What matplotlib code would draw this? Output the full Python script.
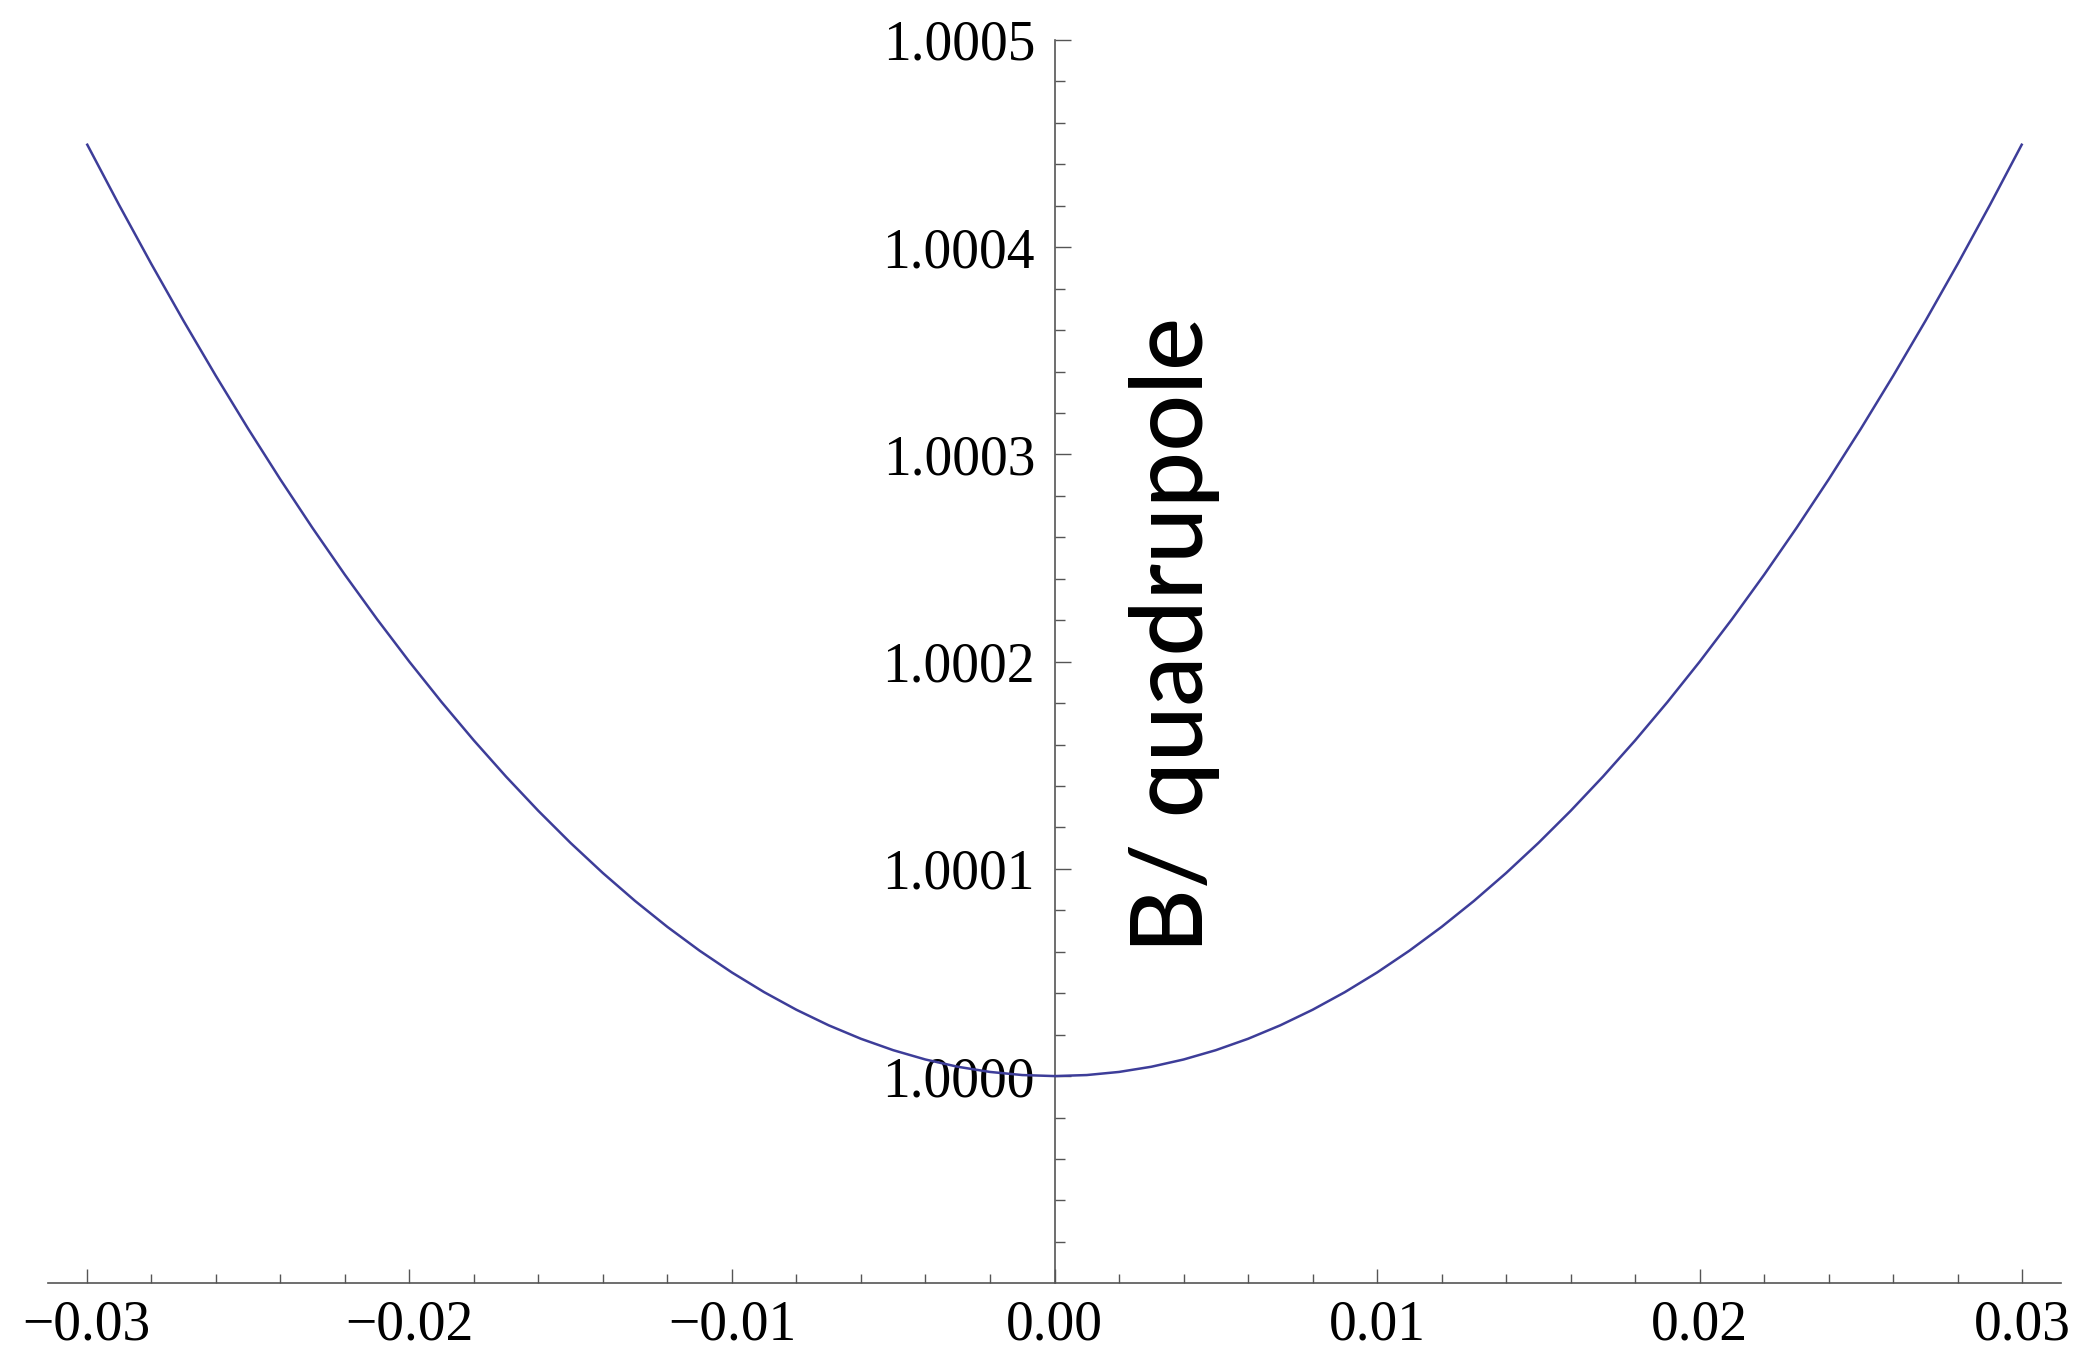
import numpy as np
import matplotlib
matplotlib.use("Agg")
import matplotlib.pyplot as plt
from matplotlib.ticker import FixedLocator, FuncFormatter

# values: offset x from -0.030 to 0.030 in 0.001 steps
x_vals = [round(-0.030 + 0.001 * i, 3) for i in range(61)]
# (B - 1) in units of 1e-4, read at each x above
dy_vals = [4.500, 4.205, 3.920, 3.645, 3.380, 3.125, 2.880, 2.645, 2.420, 2.205,
           2.000, 1.805, 1.620, 1.445, 1.280, 1.125, 0.980, 0.845, 0.720, 0.605,
           0.500, 0.405, 0.320, 0.245, 0.180, 0.125, 0.080, 0.045, 0.020, 0.005,
           0.000,
           0.005, 0.020, 0.045, 0.080, 0.125, 0.180, 0.245, 0.320, 0.405, 0.500,
           0.605, 0.720, 0.845, 0.980, 1.125, 1.280, 1.445, 1.620, 1.805, 2.000,
           2.205, 2.420, 2.645, 2.880, 3.125, 3.380, 3.645, 3.920, 4.205, 4.500]
x_ticks = [-0.03, -0.02, -0.01, 0.00, 0.01, 0.02, 0.03]
y_ticks = [1.0000, 1.0001, 1.0002, 1.0003, 1.0004, 1.0005]
y_label = "B/ quadrupole"

axis_col = "#555555"
line_col = "#3d3d99"

fig = plt.figure(figsize=(20.83, 13.49), dpi=100)
ax = fig.add_axes([48 / 2083, 65.7 / 1349, (2061 - 48) / 2083, (1283.3 - 40) / 1349])

y = 1 + np.array(dy_vals) * 1e-4
ax.plot(x_vals, y, color=line_col, lw=1.8, zorder=3, solid_capstyle="butt")

ax.set_xlim(-0.0312, 0.0312)
ax.set_ylim(0.9999, 1.0005)

for s in ["top", "right"]:
    ax.spines[s].set_visible(False)
ax.spines["left"].set_position(("data", 0))
ax.spines["bottom"].set_position(("data", 0.9999))
for s in ["left", "bottom"]:
    ax.spines[s].set_color(axis_col)
    ax.spines[s].set_linewidth(1.2)

ax.xaxis.set_major_locator(FixedLocator(x_ticks))
x_minor = [round(v * 0.002, 4) for v in range(-15, 16) if v % 5 != 0]
ax.xaxis.set_minor_locator(FixedLocator(x_minor))
ax.xaxis.set_major_formatter(FuncFormatter(
    lambda v, p: ("%.2f" % v).replace("-", "\u2212") if abs(v) > 1e-9 else "0.00"))

ax.yaxis.set_major_locator(FixedLocator(y_ticks))
y_minor = [0.9999 + k * 0.00002 for k in range(1, 31) if k % 5 != 0]
ax.yaxis.set_minor_locator(FixedLocator(y_minor))
ax.yaxis.set_major_formatter(FuncFormatter(lambda v, p: "%.4f" % v))

ax.tick_params(axis="x", which="major", direction="in", length=10, width=1,
               color=axis_col, pad=12, labelsize=40)
ax.tick_params(axis="x", which="minor", direction="in", length=6.5, width=1,
               color=axis_col)
ax.tick_params(axis="y", which="major", direction="in", length=11.5, width=1,
               color=axis_col, pad=14, labelsize=40)
ax.tick_params(axis="y", which="minor", direction="in", length=7, width=1,
               color=axis_col)
for lab in ax.get_xticklabels() + ax.get_yticklabels():
    lab.set_fontfamily("Liberation Serif")

fig.text(1175 / 2083, 1 - 635 / 1349, y_label, rotation=90, ha="center",
         va="center", fontsize=72, family="Lato", fontweight="medium")

fig.savefig("out.png", dpi=100, facecolor="white")
